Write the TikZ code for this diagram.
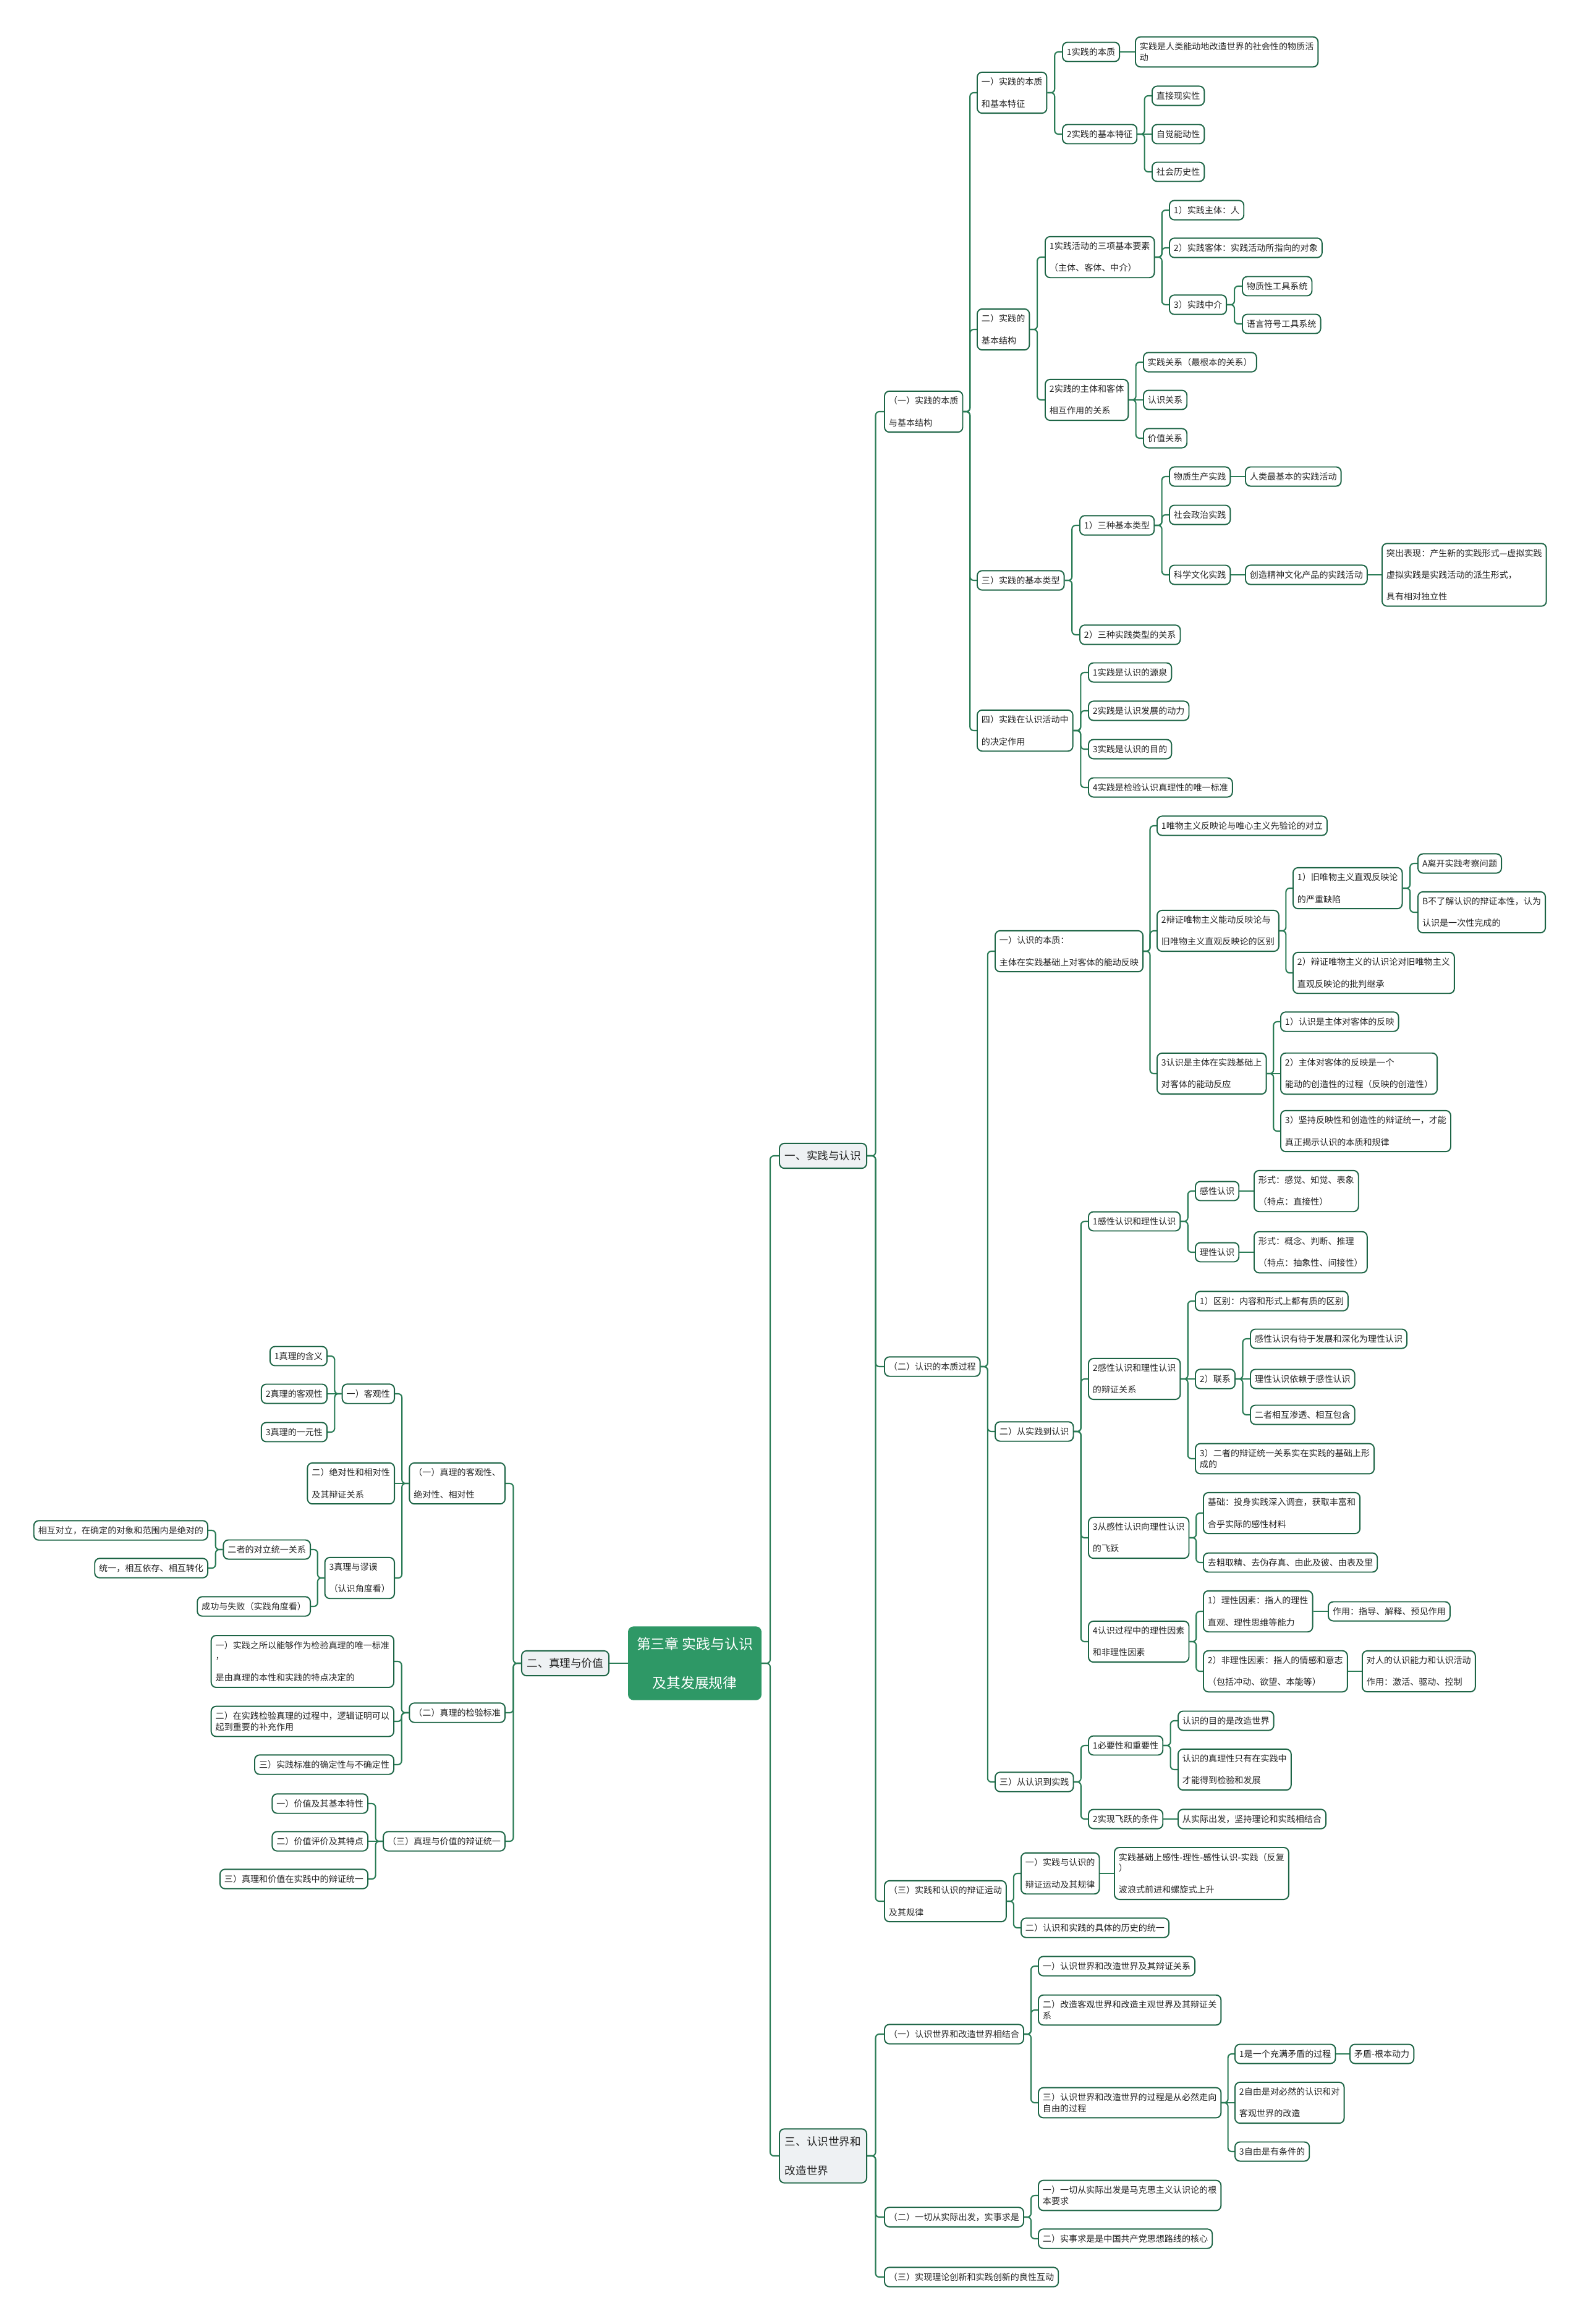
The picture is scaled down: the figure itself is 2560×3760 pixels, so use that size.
\documentclass[tikz,border=0pt]{standalone}
\usepackage{fontspec}
\usepackage{tikz}
\usetikzlibrary{calc}
\newfontfamily\cjk{Noto Sans CJK SC}

\definecolor{boxgreen}{HTML}{1D6546}
\definecolor{linegreen}{HTML}{2A7C56}
\definecolor{rootgreen}{HTML}{2E9866}
\definecolor{topicgray}{HTML}{EEF1F3}
\definecolor{txtgray}{HTML}{222222}

\tikzset{
  box/.style={draw=boxgreen, fill=white, rounded corners=0.08cm, line width=0.55pt,
    font=\cjk\fontsize{4pt}{5pt}\selectfont, text=txtgray, align=left,
    inner xsep=0.07cm, inner ysep=0.09cm},
  rbox/.style={box, anchor=west},
  lbox/.style={box, anchor=east},
  topic/.style={box, fill=topicgray, font=\cjk\fontsize{5pt}{13.4pt}\selectfont,
    inner xsep=0.09cm, inner ysep=0.12cm},
  mainbox/.style={box, fill=rootgreen, draw=rootgreen, text=white, align=center,
    font=\cjk\fontsize{6.5pt}{17.9pt}\selectfont, inner xsep=0.13cm, inner ysep=0.165cm},
  conn/.style={draw=linegreen, line width=0.6pt, rounded corners=0.06cm}
}

\newcommand{\rlink}[2]{\draw[conn] (#1.east) -- ($(#1.east)!.5!(#1.east-|#2.west)$) |- (#2.west);}
\newcommand{\llink}[2]{\draw[conn] (#1.west) -- ($(#1.west)!.5!(#1.west-|#2.east)$) |- (#2.east);}
\newcommand{\slink}[2]{\draw[conn] (#1) -- (#2);}

\begin{document}
\begin{tikzpicture}[x=0.01cm,y=-0.01cm]
  \fill[white] (0,0) rectangle (2560,3760);
  \useasboundingbox (0,0) rectangle (2560,3760);

  % >>> root and main topics
  \node[mainbox] (root) at (1124,2691) {第三章 实践与认识\\及其发展规律};
  \node[topic,anchor=west] (sj) at (1260,1870) {一、实践与认识};
  \node[topic,anchor=east] (zl) at (986,2691) {二、真理与价值};
  \node[topic,anchor=west] (gz) at (1260,3488) {三、认识世界和\\改造世界};
  % <<< root and main topics

  % >>> (一) 实践的本质与基本结构
  \node[rbox] (bz) at (1430,666) {（一）实践的本质\\[5pt]与基本结构};
  \node[rbox] (bz1) at (1580,150) {一）实践的本质\\[5pt]和基本特征};
  \node[rbox] (bz11) at (1718,84) {1实践的本质};
  \node[rbox] (bz111) at (1836,84) {实践是人类能动地改造世界的社会性的物质活\\动};
  \node[rbox] (bz12) at (1718,217) {2实践的基本特征};
  \node[rbox] (bz121) at (1863,155) {直接现实性};
  \node[rbox] (bz122) at (1863,217) {自觉能动性};
  \node[rbox] (bz123) at (1863,278) {社会历史性};
  \node[rbox] (bz2) at (1580,533) {二）实践的\\[5pt]基本结构};
  \node[rbox] (bz21) at (1690,416) {1实践活动的三项基本要素\\[5pt]（主体、客体、中介）};
  \node[rbox] (bz211) at (1891,340) {1）实践主体：人};
  \node[rbox] (bz212) at (1891,401) {2）实践客体：实践活动所指向的对象};
  \node[rbox] (bz213) at (1891,493) {3）实践中介};
  \node[rbox] (bz2131) at (2009,463) {物质性工具系统};
  \node[rbox] (bz2132) at (2009,524) {语言符号工具系统};
  \node[rbox] (bz22) at (1690,647) {2实践的主体和客体\\[5pt]相互作用的关系};
  \node[rbox] (bz221) at (1849,586) {实践关系（最根本的关系）};
  \node[rbox] (bz222) at (1849,647) {认识关系};
  \node[rbox] (bz223) at (1849,709) {价值关系};
  \node[rbox] (bz3) at (1580,939) {三）实践的基本类型};
  \node[rbox] (bz31) at (1746,850) {1）三种基本类型};
  \node[rbox] (bz311) at (1891,771) {物质生产实践};
  \node[rbox] (bz3111) at (2014,771) {人类最基本的实践活动};
  \node[rbox] (bz312) at (1891,833) {社会政治实践};
  \node[rbox] (bz313) at (1891,930) {科学文化实践};
  \node[rbox] (bz3131) at (2014,930) {创造精神文化产品的实践活动};
  \node[rbox] (bz3132) at (2235,930) {突出表现：产生新的实践形式—虚拟实践\\[5pt]虚拟实践是实践活动的派生形式，\\[5pt]具有相对独立性};
  \node[rbox] (bz32) at (1746,1027) {2）三种实践类型的关系};
  \node[rbox] (bz4) at (1580,1182) {四）实践在认识活动中\\[5pt]的决定作用};
  \node[rbox] (bz41) at (1760,1088) {1实践是认识的源泉};
  \node[rbox] (bz42) at (1760,1150) {2实践是认识发展的动力};
  \node[rbox] (bz43) at (1760,1212) {3实践是认识的目的};
  \node[rbox] (bz44) at (1760,1274) {4实践是检验认识真理性的唯一标准};
  % <<< (一) 实践的本质与基本结构

  % >>> (二) 认识的本质过程
  \node[rbox] (rs) at (1430,2211) {（二）认识的本质过程};
  \node[rbox] (rs1) at (1609,1539) {一）认识的本质：\\[5pt]主体在实践基础上对客体的能动反映};
  \node[rbox] (rs11) at (1871,1336) {1唯物主义反映论与唯心主义先验论的对立};
  \node[rbox] (rs12) at (1871,1506) {2辩证唯物主义能动反映论与\\[5pt]旧唯物主义直观反映论的区别};
  \node[rbox] (rs121) at (2091,1437) {1）旧唯物主义直观反映论\\[5pt]的严重缺陷};
  \node[rbox] (rs1211) at (2293,1397) {A离开实践考察问题};
  \node[rbox] (rs1212) at (2293,1476) {B不了解认识的辩证本性，认为\\[5pt]认识是一次性完成的};
  \node[rbox] (rs122) at (2091,1574) {2）辩证唯物主义的认识论对旧唯物主义\\[5pt]直观反映论的批判继承};
  \node[rbox] (rs13) at (1871,1737) {3认识是主体在实践基础上\\[5pt]对客体的能动反应};
  \node[rbox] (rs131) at (2071,1653) {1）认识是主体对客体的反映};
  \node[rbox] (rs132) at (2071,1737) {2）主体对客体的反映是一个\\[5pt]能动的创造性的过程（反映的创造性）};
  \node[rbox] (rs133) at (2071,1830) {3）坚持反映性和创造性的辩证统一，才能\\[5pt]真正揭示认识的本质和规律};
  \node[rbox] (rs2) at (1609,2316) {二）从实践到认识};
  \node[rbox] (rs21) at (1760,1976) {1感性认识和理性认识};
  \node[rbox] (rs211) at (1933,1927) {感性认识};
  \node[rbox] (rs2111) at (2028,1927) {形式：感觉、知觉、表象\\[5pt]（特点：直接性）};
  \node[rbox] (rs212) at (1933,2026) {理性认识};
  \node[rbox] (rs2121) at (2028,2026) {形式：概念、判断、推理\\[5pt]（特点：抽象性、间接性）};
  \node[rbox] (rs22) at (1760,2231) {2感性认识和理性认识\\[5pt]的辩证关系};
  \node[rbox] (rs221) at (1933,2105) {1）区别：内容和形式上都有质的区别};
  \node[rbox] (rs222) at (1933,2231) {2）联系};
  \node[rbox] (rs2221) at (2022,2166) {感性认识有待于发展和深化为理性认识};
  \node[rbox] (rs2222) at (2022,2231) {理性认识依赖于感性认识};
  \node[rbox] (rs2223) at (2022,2289) {二者相互渗透、相互包含};
  \node[rbox] (rs223) at (1933,2360) {3）二者的辩证统一关系实在实践的基础上形\\成的};
  \node[rbox] (rs23) at (1760,2488) {3从感性认识向理性认识\\[5pt]的飞跃};
  \node[rbox] (rs231) at (1946,2448) {基础：投身实践深入调查，获取丰富和\\[5pt]合乎实际的感性材料};
  \node[rbox] (rs232) at (1946,2528) {去粗取精、去伪存真、由此及彼、由表及里};
  \node[rbox] (rs24) at (1760,2656) {4认识过程中的理性因素\\[5pt]和非理性因素};
  \node[rbox] (rs241) at (1946,2607) {1）理性因素：指人的理性\\[5pt]直观、理性思维等能力};
  \node[rbox] (rs2411) at (2148,2607) {作用：指导、解释、预见作用};
  \node[rbox] (rs242) at (1946,2704) {2）非理性因素：指人的情感和意志\\[5pt]（包括冲动、欲望、本能等）};
  \node[rbox] (rs2421) at (2203,2704) {对人的认识能力和认识活动\\[5pt]作用：激活、驱动、控制};
  \node[rbox] (rs3) at (1609,2883) {三）从认识到实践};
  \node[rbox] (rs31) at (1760,2824) {1必要性和重要性};
  \node[rbox] (rs311) at (1905,2784) {认识的目的是改造世界};
  \node[rbox] (rs312) at (1905,2863) {认识的真理性只有在实践中\\[5pt]才能得到检验和发展};
  \node[rbox] (rs32) at (1760,2943) {2实现飞跃的条件};
  \node[rbox] (rs321) at (1905,2943) {从实际出发，坚持理论和实践相结合};
  % <<< (二) 认识的本质过程

  % >>> (三) 实践和认识的辩证运动
  \node[rbox] (yd) at (1430,3076) {（三）实践和认识的辩证运动\\[5pt]及其规律};
  \node[rbox] (yd1) at (1651,3031) {一）实践与认识的\\[5pt]辩证运动及其规律};
  \node[rbox] (yd11) at (1802,3031) {实践基础上感性-理性-感性认识-实践（反复\\）\\[5pt]波浪式前进和螺旋式上升};
  \node[rbox] (yd2) at (1651,3119) {二）认识和实践的具体的历史的统一};
  % <<< (三) 实践和认识的辩证运动

  % >>> 三、认识世界和改造世界
  \node[rbox] (jh) at (1430,3291) {（一）认识世界和改造世界相结合};
  \node[rbox] (jh1) at (1679,3181) {一）认识世界和改造世界及其辩证关系};
  \node[rbox] (jh2) at (1679,3252) {二）改造客观世界和改造主观世界及其辩证关\\系};
  \node[rbox] (jh3) at (1679,3402) {三）认识世界和改造世界的过程是从必然走向\\自由的过程};
  \node[rbox] (jh31) at (1997,3323) {1是一个充满矛盾的过程};
  \node[rbox] (jh311) at (2183,3323) {矛盾-根本动力};
  \node[rbox] (jh32) at (1997,3402) {2自由是对必然的认识和对\\[5pt]客观世界的改造};
  \node[rbox] (jh33) at (1997,3481) {3自由是有条件的};
  \node[rbox] (ss) at (1430,3587) {（二）一切从实际出发，实事求是};
  \node[rbox] (ss1) at (1679,3552) {一）一切从实际出发是马克思主义认识论的根\\本要求};
  \node[rbox] (ss2) at (1679,3622) {二）实事求是是中国共产党思想路线的核心};
  \node[rbox] (cx) at (1430,3684) {（三）实现理论创新和实践创新的良性互动};
  % <<< 三、认识世界和改造世界

  % >>> 二、真理与价值 (left side)
  \node[lbox] (kg) at (818,2400) {（一）真理的客观性、\\[5pt]绝对性、相对性};
  \node[lbox] (kg1) at (639,2255) {一）客观性};
  \node[lbox] (kg11) at (530,2194) {1真理的含义};
  \node[lbox] (kg12) at (530,2255) {2真理的客观性};
  \node[lbox] (kg13) at (530,2317) {3真理的一元性};
  \node[lbox] (kg2) at (639,2400) {二）绝对性和相对性\\[5pt]及其辩证关系};
  \node[lbox] (kg3) at (639,2553) {3真理与谬误\\[5pt]（认识角度看）};
  \node[lbox] (kg31) at (503,2507) {二者的对立统一关系};
  \node[lbox] (kg311) at (337,2476) {相互对立，在确定的对象和范围内是绝对的};
  \node[lbox] (kg312) at (337,2537) {统一，相互依存、相互转化};
  \node[lbox] (kg32) at (503,2599) {成功与失败（实践角度看）};
  \node[lbox] (jy) at (818,2771) {（二）真理的检验标准};
  \node[lbox] (jy1) at (638,2688) {一）实践之所以能够作为检验真理的唯一标准\\，\\[5pt]是由真理的本性和实践的特点决定的};
  \node[lbox] (jy2) at (638,2785) {二）在实践检验真理的过程中，逻辑证明可以\\起到重要的补充作用};
  \node[lbox] (jy3) at (638,2855) {三）实践标准的确定性与不确定性};
  \node[lbox] (jz) at (818,2979) {（三）真理与价值的辩证统一};
  \node[lbox] (jz1) at (596,2918) {一）价值及其基本特性};
  \node[lbox] (jz2) at (596,2979) {二）价值评价及其特点};
  \node[lbox] (jz3) at (596,3040) {三）真理和价值在实践中的辩证统一};
  % <<< 二、真理与价值

  % >>> connectors
  \rlink{root}{sj} \rlink{root}{gz} \slink{root.west}{zl.east}
  \foreach \c in {bz,rs,yd} {\rlink{sj}{\c}}
  \foreach \c in {jh,ss,cx} {\rlink{gz}{\c}}

  \foreach \c in {bz1,bz2,bz3,bz4} {\rlink{bz}{\c}}
  \rlink{bz1}{bz11} \rlink{bz1}{bz12}
  \slink{bz11.east}{bz111.west}
  \rlink{bz12}{bz121} \slink{bz12.east}{bz122.west} \rlink{bz12}{bz123}
  \rlink{bz2}{bz21} \rlink{bz2}{bz22}
  \foreach \c in {bz211,bz212,bz213} {\rlink{bz21}{\c}}
  \rlink{bz213}{bz2131} \rlink{bz213}{bz2132}
  \rlink{bz22}{bz221} \slink{bz22.east}{bz222.west} \rlink{bz22}{bz223}
  \rlink{bz3}{bz31} \rlink{bz3}{bz32}
  \foreach \c in {bz311,bz312,bz313} {\rlink{bz31}{\c}}
  \slink{bz311.east}{bz3111.west}
  \slink{bz313.east}{bz3131.west} \slink{bz3131.east}{bz3132.west}
  \foreach \c in {bz41,bz42,bz43,bz44} {\rlink{bz4}{\c}}

  \foreach \c in {rs1,rs2,rs3} {\rlink{rs}{\c}}
  \foreach \c in {rs11,rs12,rs13} {\rlink{rs1}{\c}}
  \rlink{rs12}{rs121} \rlink{rs12}{rs122}
  \rlink{rs121}{rs1211} \rlink{rs121}{rs1212}
  \rlink{rs13}{rs131} \slink{rs13.east}{rs132.west} \rlink{rs13}{rs133}
  \foreach \c in {rs21,rs22,rs23,rs24} {\rlink{rs2}{\c}}
  \rlink{rs21}{rs211} \rlink{rs21}{rs212}
  \slink{rs211.east}{rs2111.west} \slink{rs212.east}{rs2121.west}
  \rlink{rs22}{rs221} \slink{rs22.east}{rs222.west} \rlink{rs22}{rs223}
  \rlink{rs222}{rs2221} \slink{rs222.east}{rs2222.west} \rlink{rs222}{rs2223}
  \rlink{rs23}{rs231} \rlink{rs23}{rs232}
  \rlink{rs24}{rs241} \rlink{rs24}{rs242}
  \slink{rs241.east}{rs2411.west} \slink{rs242.east}{rs2421.west}
  \rlink{rs3}{rs31} \rlink{rs3}{rs32}
  \rlink{rs31}{rs311} \rlink{rs31}{rs312}
  \slink{rs32.east}{rs321.west}

  \rlink{yd}{yd1} \rlink{yd}{yd2}
  \slink{yd1.east}{yd11.west}

  \foreach \c in {jh1,jh2,jh3} {\rlink{jh}{\c}}
  \rlink{jh3}{jh31} \slink{jh3.east}{jh32.west} \rlink{jh3}{jh33}
  \slink{jh31.east}{jh311.west}
  \rlink{ss}{ss1} \rlink{ss}{ss2}

  \foreach \c in {kg,jy,jz} {\llink{zl}{\c}}
  \llink{kg}{kg1} \slink{kg.west}{kg2.east} \llink{kg}{kg3}
  \llink{kg1}{kg11} \slink{kg1.west}{kg12.east} \llink{kg1}{kg13}
  \llink{kg3}{kg31} \llink{kg3}{kg32}
  \llink{kg31}{kg311} \llink{kg31}{kg312}
  \foreach \c in {jy1,jy2,jy3} {\llink{jy}{\c}}
  \llink{jz}{jz1} \slink{jz.west}{jz2.east} \llink{jz}{jz3}
  % <<< connectors
\end{tikzpicture}
\end{document}
